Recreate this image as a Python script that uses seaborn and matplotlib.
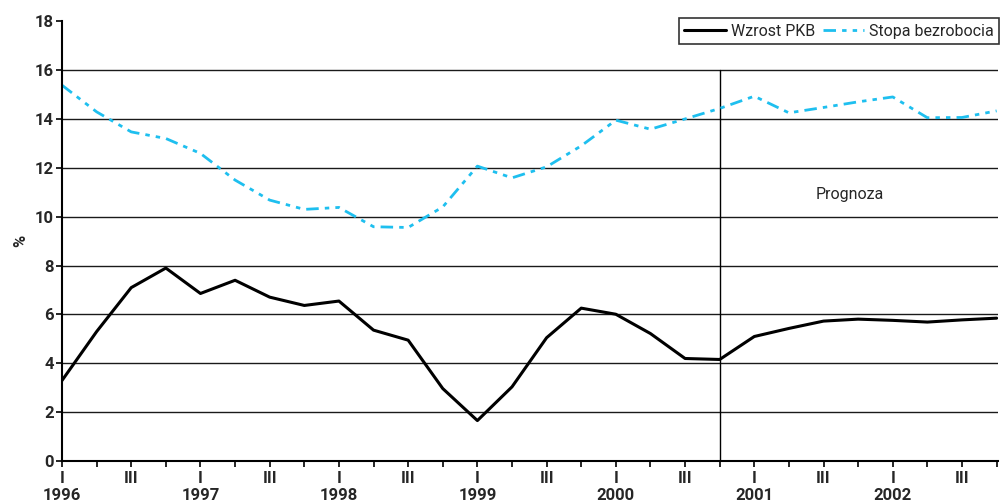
import numpy as np
import pandas as pd
import matplotlib
matplotlib.use("Agg")
import matplotlib.pyplot as plt
from matplotlib import font_manager
from matplotlib.lines import Line2D
import seaborn as sns

# Quarterly series, 1996 Q1 - 2002 Q4
years = [1996, 1997, 1998, 1999, 2000, 2001, 2002]
quarters = ["I", "II", "III", "IV"]
gdp_growth = [3.3, 5.3, 7.1, 7.9, 6.86, 7.4, 6.71, 6.37,
              6.55, 5.36, 4.95, 2.97, 1.66, 3.04, 5.05, 6.26,
              6.01, 5.22, 4.2, 4.16, 5.1, 5.43, 5.73, 5.81,
              5.76, 5.69, 5.78, 5.85]
unemployment = [15.38, 14.29, 13.47, 13.2, 12.59, 11.5, 10.68, 10.3,
                10.38, 9.59, 9.56, 10.4, 12.07, 11.59, 12.04, 12.9,
                13.95, 13.58, 14.0, 14.43, 14.93, 14.25, 14.47, 14.7,
                14.9, 14.05, 14.06, 14.33]
forecast_start = "2000 IV"
series_names = ["Wzrost PKB", "Stopa bezrobocia"]

periods = [f"{y} {q}" for y in years for q in quarters]
idx = np.arange(len(periods))
df = pd.DataFrame({
    "t": np.concatenate([idx, idx]),
    "value": gdp_growth + unemployment,
    "series": [series_names[0]] * len(idx) + [series_names[1]] * len(idx),
})

sns.set_theme(style="white")
avail = {f.name for f in font_manager.fontManager.ttflist}
base = "Liberation Sans Narrow" if "Liberation Sans Narrow" in avail else "Roboto"
plt.rcParams["font.family"] = [base, "DejaVu Sans"]

fig = plt.figure(figsize=(10, 5.04), dpi=100)
ax = fig.add_axes([0.062, 0.085, 0.936, 0.873])

blue = "#1ebfef"
dash_pattern = [4.5, 2.2, 1.6, 2.2, 1.6, 2.2]
palette = {series_names[0]: "#000000", series_names[1]: blue}
sns.lineplot(data=df, x="t", y="value", hue="series", palette=palette,
             ax=ax, legend=False, linewidth=2.2)
ax.lines[1].set_dashes(dash_pattern)
ax.lines[1].set_linewidth(2.0)

ax.set_xlim(0, 27.04)
ax.set_ylim(0, 18)
ax.set_yticks(np.arange(0, 19, 2))
for y in range(2, 17, 2):
    ax.axhline(y, color="#1a1a1a", lw=1.0, zorder=0)

fx = periods.index(forecast_start)
ax.axvline(fx, ymin=0, ymax=16 / 18, color="#000000", lw=1.0, zorder=1)
ax.text(fx + 3.75, 10.9, "Prognoza", fontsize=11.5, ha="center", va="center")

labels = []
for p in periods:
    y, q = p.split()
    if q == "I":
        labels.append(f"I\n{y}")
    elif q == "III":
        labels.append("III")
    else:
        labels.append("")
ax.set_xticks(idx)
ax.set_xticklabels(labels, fontsize=12, fontweight="bold", linespacing=1.2)
for lbl in ax.get_yticklabels():
    lbl.set_fontweight("bold")
ax.tick_params(axis="y", labelsize=12, length=4, width=1.2, direction="out",
               left=True, pad=2, color="black")
ax.tick_params(axis="x", length=4, width=1.2, direction="out", bottom=True,
               pad=3, color="black")

for s in ["top", "right"]:
    ax.spines[s].set_visible(False)
for s in ["left", "bottom"]:
    ax.spines[s].set_color("black")
    ax.spines[s].set_linewidth(1.5)

ax.set_xlabel("")
ax.set_ylabel("%", fontsize=12, fontweight="bold")
ax.yaxis.set_label_coords(-0.036, 0.5)

handles = [Line2D([], [], color="#000000", lw=2.2),
           Line2D([], [], color=blue, lw=2.0, dashes=dash_pattern)]
leg = ax.legend(handles, series_names, loc="upper right",
                bbox_to_anchor=(1.0015, 1.007), ncol=2, fontsize=11.5,
                frameon=True, fancybox=False, framealpha=1,
                edgecolor="#333333", handlelength=2.6, handletextpad=0.3,
                columnspacing=0.5, borderpad=0.35, borderaxespad=0)
leg.get_frame().set_linewidth(1.2)

fig.savefig("out.png", dpi=100)
